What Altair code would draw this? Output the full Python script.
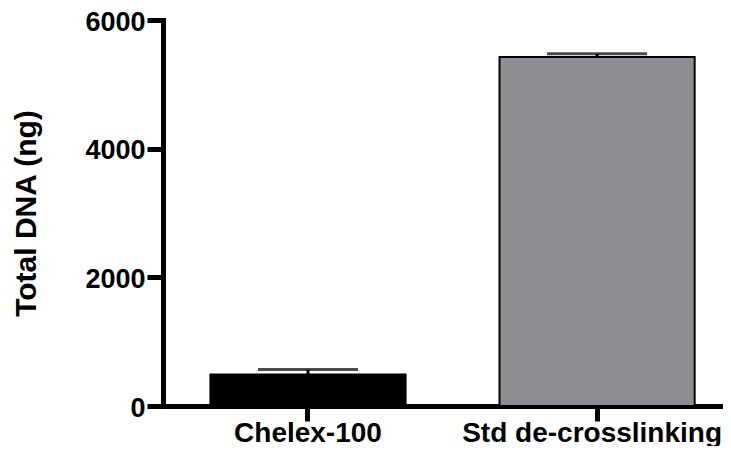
import altair as alt
import pandas as pd

categories = ["Chelex-100", "Std de-crosslinking"]
means = [489, 5423]
errors = [78, 53]
colors = ["#000000", "#8e8d91"]

df = pd.DataFrame({
    "cat": categories,
    "mean": means,
    "upper": [m + e for m, e in zip(means, errors)],
    "color": colors,
})

FONT = "Liberation Sans"

xscale = alt.Scale(domain=categories, paddingInner=0.325, paddingOuter=0.131, align=0.626)
yscale = alt.Scale(domain=[0, 6000], nice=False)

x = alt.X("cat:N", scale=xscale, sort=categories, axis=alt.Axis(
    title=None, labelAngle=0, labelFont=FONT, labelFontSize=28, labelFontWeight="bold",
    labelColor="black", labelBaseline="alphabetic", labelPadding=20, labelLimit=0,
    domainColor="black", domainWidth=5,
    labelOffset={"condition": {"test": "datum.value === 'Std de-crosslinking'", "value": -5}, "value": 0},
    tickColor="black", tickWidth=5, tickSize=15, domainCap="square"))

y = alt.Y("mean:Q", scale=yscale, axis=alt.Axis(
    title="Total DNA (ng)", values=[0, 2000, 4000, 6000], format="d",
    labelFont=FONT, labelFontSize=27, labelFontWeight="bold", labelColor="black",
    labelPadding=2, labelOffset=2, domainColor="black", domainWidth=5, tickColor="black",
    tickWidth=5, tickSize=16, grid=False, domainCap="square",
    titleFont=FONT, titleFontSize=30, titleFontWeight="bold", titleColor="black",
    titleAngle=270, titleX=-152, titleY=193, titleAlign="center", titleBaseline="top"))

bars = alt.Chart(df).mark_bar(stroke="black", strokeWidth=2).encode(
    x=x, y=y,
    fill=alt.Color("color:N", scale=None),
)

rules = alt.Chart(df).mark_rule(color="black", strokeWidth=3).encode(
    x=alt.X("cat:N", scale=xscale, sort=categories),
    y=alt.Y("mean:Q", scale=yscale),
    y2="upper:Q",
)

caps = alt.Chart(df).mark_tick(color="black", size=100, thickness=3, orient="horizontal").encode(
    x=alt.X("cat:N", scale=xscale, sort=categories),
    y=alt.Y("upper:Q", scale=yscale),
)

chart = alt.layer(bars, rules, caps).properties(
    width=560, height=386,
    autosize=alt.AutoSizeParams(type="none"),
    padding={"left": 155, "top": 12, "right": 0, "bottom": 40},
).configure(background="white").configure_view(stroke=None)

chart.save("out.html", embed_options={"renderer": "svg", "actions": False})
